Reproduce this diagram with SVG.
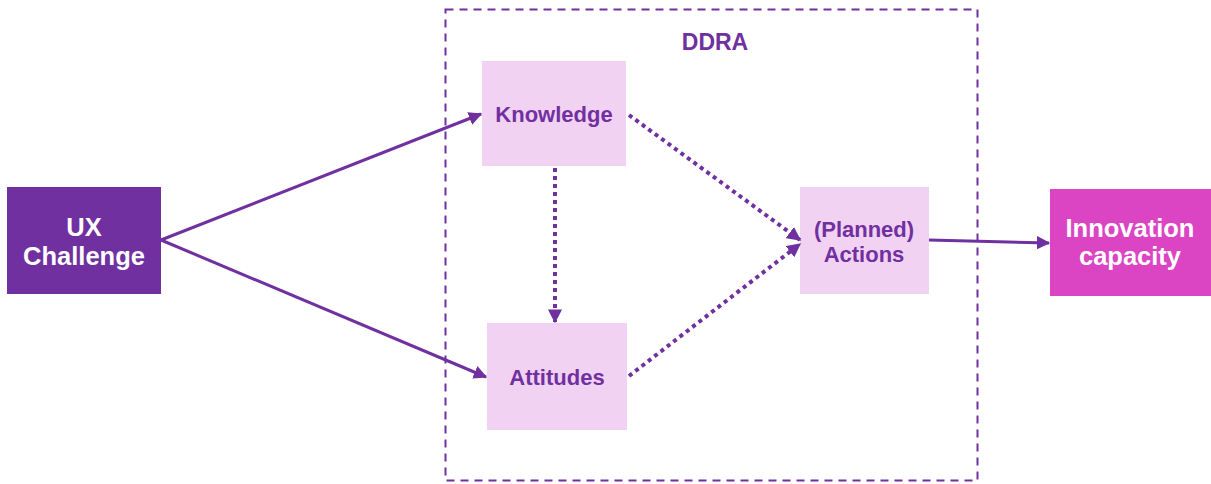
<svg xmlns="http://www.w3.org/2000/svg" width="1211" height="484" viewBox="0 0 1211 484">
<style>
.lbl{font-family:"Liberation Sans",Arial,sans-serif;font-weight:bold;text-anchor:middle}
.dark{fill:#7030A0}
.light{fill:#F2D2F2}
.solid{stroke:#7030A0;stroke-width:3;fill:none}
.dot{stroke:#7030A0;stroke-width:4;stroke-dasharray:4 4;fill:none}
</style>
<defs>
<marker id="ah" viewBox="0 0 10 10" refX="9" refY="5" markerWidth="4.5" markerHeight="4.5" orient="auto" markerUnits="strokeWidth">
<path d="M0,0 L10,5 L0,10 z" fill="#7030A0"/>
</marker>
<marker id="ahd" viewBox="0 0 10 10" refX="9" refY="5" markerWidth="3.5" markerHeight="3.5" orient="auto" markerUnits="strokeWidth">
<path d="M0,0 L10,5 L0,10 z" fill="#7030A0"/>
</marker>
</defs>
<rect x="445.5" y="9.5" width="532" height="471" fill="none" stroke="#7030A0" stroke-width="2" stroke-dasharray="8 6"/>
<text class="lbl dark" x="715" y="50" font-size="23">DDRA</text>
<g id="ux">
<rect x="7" y="187" width="154" height="107" fill="#7030A0"/>
<text class="lbl" fill="#fff" font-size="25.5" x="84" y="236">UX</text>
<text class="lbl" fill="#fff" font-size="25.5" x="84" y="265">Challenge</text>
</g>
<g id="knowledge">
<rect class="light" x="482" y="61" width="144" height="105"/>
<text class="lbl dark" font-size="22" x="554" y="122">Knowledge</text>
</g>
<g id="attitudes">
<rect class="light" x="487" y="323" width="140" height="107"/>
<text class="lbl dark" font-size="22" x="557" y="385">Attitudes</text>
</g>
<g id="actions">
<rect class="light" x="800" y="187" width="129" height="107"/>
<text class="lbl dark" font-size="22" x="864" y="237">(Planned)</text>
<text class="lbl dark" font-size="22" x="864" y="262">Actions</text>
</g>
<g id="innovation">
<rect x="1050" y="189" width="161" height="107" fill="#DB45C3"/>
<text class="lbl" fill="#fff" font-size="25.5" x="1130" y="237">Innovation</text>
<text class="lbl" fill="#fff" font-size="25.5" x="1130" y="265">capacity</text>
</g>
<g id="connectors">
<line class="solid" x1="161" y1="240" x2="481" y2="114" marker-end="url(#ah)"/>
<line class="solid" x1="161" y1="240" x2="486" y2="377" marker-end="url(#ah)"/>
<line class="solid" x1="929" y1="240" x2="1049" y2="243" marker-end="url(#ah)"/>
<line class="dot" x1="629" y1="115" x2="800" y2="240" marker-end="url(#ahd)"/>
<line class="dot" x1="629" y1="376" x2="800" y2="244" marker-end="url(#ahd)"/>
<line class="dot" x1="555" y1="168" x2="555" y2="322" marker-end="url(#ahd)"/>
</g>
</svg>
